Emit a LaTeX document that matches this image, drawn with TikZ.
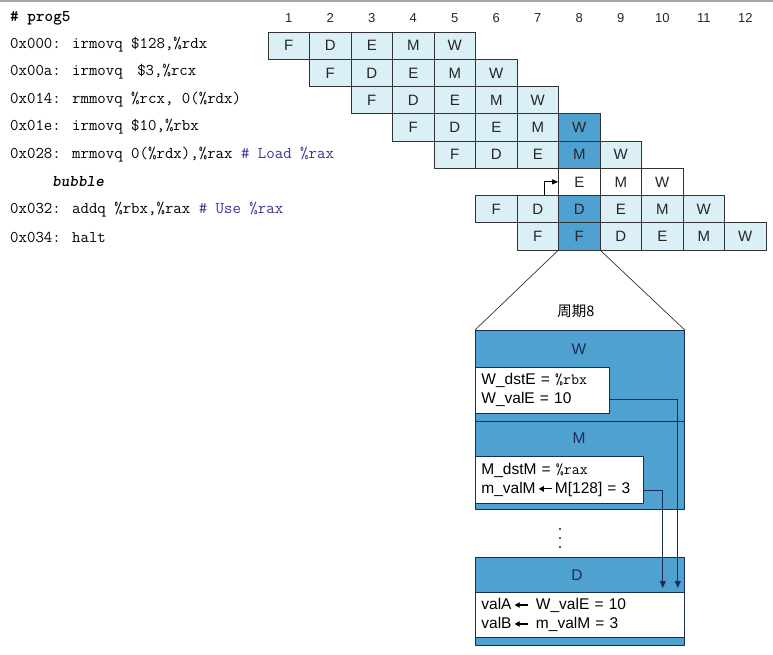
\documentclass[tikz,border=0pt]{standalone}
\usepackage{fontspec}
\newfontfamily\hv{Liberation Sans}
\newfontfamily\cjk{Noto Sans CJK SC}
\usetikzlibrary{arrows.meta}
\definecolor{lightcell}{HTML}{DAF0F6}
\definecolor{darkcell}{HTML}{4FA2D0}
\definecolor{navy}{HTML}{1C2B55}
\definecolor{cmt}{HTML}{34349A}
\definecolor{gridline}{HTML}{333333}
\newcommand\larr{\tikz[baseline=-0.55ex]\draw[line width=1.1pt,-{Triangle[length=5pt,width=5.5pt]}] (13pt,0pt) -- (0pt,0pt);}
\begin{document}
\begin{tikzpicture}[x=1pt,y=-1pt,
  cell/.style={draw=gridline, line width=0.7pt, minimum width=41.5pt, minimum height=27.25pt,
    inner sep=0pt, font=\hv\fontsize{15}{15}\selectfont, text=black!85},
  code/.style={anchor=west, inner sep=0pt, font=\ttfamily\fontsize{16.4}{18}\selectfont},
  colnum/.style={inner sep=0pt, font=\hv\fontsize{13}{13}\selectfont, text=black!85},
  region/.style={draw=navy, line width=0.8pt, fill=darkcell, anchor=north west, inner sep=0pt, minimum width=209pt},
  wbox/.style={draw=navy, line width=0.8pt, fill=white, anchor=north west, inner xsep=6pt, inner ysep=2pt,
    align=left, font=\hv\fontsize{15.5}{19}\selectfont},
  reglabel/.style={inner sep=0pt, font=\hv\fontsize{15.5}{15.5}\selectfont, text=navy},
  fwd/.style={draw=navy, line width=0.9pt, -{Triangle[length=7pt,width=6pt]}}
]
\useasboundingbox (0,0) rectangle (773,654);
\draw[gray!70, line width=1.5pt] (0,1) -- (773,1);

% code listing
\node[code, font=\ttfamily\bfseries\fontsize{16.4}{18}\selectfont] (l0) at (10,18) {\# prog5};
\node[code] (l1) at (10,45) {0x000: irmovq \$128,\%rdx};
\node[code] (l2) at (10,72) {0x00a: irmovq\hspace{6pt} \$3,\%rcx};
\node[code] (l3) at (10,100) {0x014: rmmovq \%rcx, 0(\%rdx)};
\node[code] (l4) at (10,127) {0x01e: irmovq \$10,\%rbx};
\node[code] (l5) at (10,155) {0x028: mrmovq 0(\%rdx),\%rax \textcolor{cmt}{\# Load \%rax}};
\node[code, font=\ttfamily\bfseries\itshape\fontsize{16.4}{18}\selectfont] (l6) at (52,182) {bubble};
\node[code] (l7) at (10,210) {0x032: addq \%rbx,\%rax \textcolor{cmt}{\# Use \%rax}};
\node[code] (l8) at (10,237) {0x034: halt};

% column numbers
\foreach \k in {1,...,12}
  \node[colnum] (n\k) at ({268+(\k-0.5)*41.5},18) {\k};

% pipeline cells
\foreach \r/\s/\L/\f/\d in {1/1/{F,D,E,M,W}/lightcell/8, 2/2/{F,D,E,M,W}/lightcell/8,
    3/3/{F,D,E,M,W}/lightcell/8, 4/4/{F,D,E,M,W}/lightcell/8, 5/5/{F,D,E,M,W}/lightcell/8,
    6/8/{E,M,W}/white/0, 7/6/{F,D,D,E,M,W}/lightcell/8, 8/7/{F,F,D,E,M,W}/lightcell/8}{
  \foreach \l [count=\i from 0] in \L {
    \pgfmathtruncatemacro\c{\s+\i}
    \ifnum\c=\d\relax \def\fc{darkcell}\else \def\fc{\f}\fi
    \node[cell, fill=\fc] (c\r-\c) at ({268+(\c-0.5)*41.5},{32+(\r-0.5)*27.25}) {\l};
  }
}

% stall arrow
\draw[line width=0.8pt, -{Triangle[length=6pt,width=5pt]}] ([xshift=7pt]c7-7.north) |- (c6-8.west);

% cycle 8 detail
\node[inner sep=0pt, font=\cjk\fontsize{14.5}{14.5}\selectfont] (cyc) at (576,311) {周期8};

\node[region, minimum height=91pt] (Wreg) at (475,330) {};
\node[reglabel] (Wl) at (579,349) {W};
\node[wbox, text width=122pt, minimum height=46pt] (Wbox) at (475,367) {W\_dstE = {\ttfamily\%rbx}\\W\_valE = 10};

\node[region, minimum height=88pt] (Mreg) at (475,421) {};
\node[reglabel] (Ml) at (579,438) {M};
\node[wbox, text width=156pt, minimum height=47pt] (Mbox) at (475,456) {M\_dstM = {\ttfamily\%rax}\\m\_valM\,\larr\,M[128] = 3};

\foreach \y [count=\j] in {529,538,547}
  \fill[black!85] (560,\y) circle (1.2pt) coordinate (dot\j);

\node[region, minimum height=88pt] (Dreg) at (475,557) {};
\node[reglabel] (Dl) at (577,575) {D};
\node[wbox, text width=197pt, minimum height=45pt] (Dbox) at (475,592) {valA\,\larr\, W\_valE = 10\\valB\,\larr\, m\_valM = 3};

\draw[gridline, line width=0.7pt] (c8-8.south west) -- (Wreg.north west);
\draw[gridline, line width=0.7pt] (c8-8.south east) -- (Wreg.north east);

\draw[fwd] ([yshift=-9pt]Wbox.east) -| ([xshift=-7pt,yshift=4pt]Dbox.north east);
\draw[fwd] ([yshift=-10.5pt]Mbox.east) -| ([xshift=-22pt,yshift=4pt]Dbox.north east);
\end{tikzpicture}
\end{document}
